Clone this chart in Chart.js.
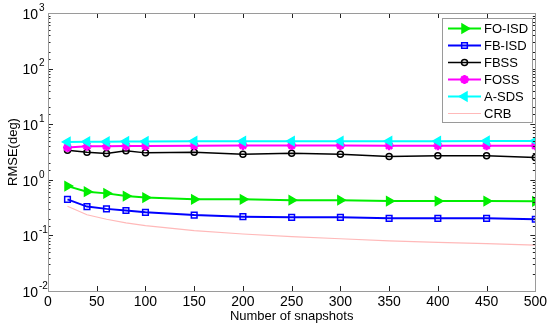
<!DOCTYPE html>
<html lang="en">

<head>
    <meta charset="utf-8">
    <title>RMSE vs snapshots</title>
    <script src="https://cdn.jsdelivr.net/npm/chart.js"></script>
    <style>
        body {
            margin: 0;
            background: #fff;
        }
        
        #rmseChart {
            display: block;
        }
    </style>
</head>

<body>
    <canvas id="rmseChart" width="550" height="328"></canvas>

    <script>
        // data
        const snapshots = [20, 40, 60, 80, 100, 150, 200, 250, 300, 350, 400, 450, 500];
        const foIsd = [0.77, 0.61, 0.57, 0.51, 0.48, 0.445, 0.445, 0.43, 0.43, 0.415, 0.415, 0.415, 0.41];
        const fbIsd = [0.445, 0.33, 0.30, 0.28, 0.26, 0.232, 0.217, 0.211, 0.211, 0.203, 0.203, 0.203, 0.195];
        const fbss = [3.41, 3.14, 2.98, 3.32, 3.05, 3.14, 2.89, 3.01, 2.89, 2.63, 2.70, 2.70, 2.52];
        const foss = [3.82, 4.03, 4.03, 4.05, 4.05, 4.1, 4.15, 4.15, 4.15, 4.1, 4.1, 4.1, 4.1];
        const asds = [4.8, 4.85, 4.85, 4.9, 4.9, 4.95, 4.95, 4.95, 4.95, 4.95, 4.95, 5.0, 5.0];
        const crb = [0.335, 0.235, 0.195, 0.168, 0.15, 0.122, 0.106, 0.095, 0.087, 0.08, 0.075, 0.071, 0.067];
        const seriesNames = ['FO-ISD', 'FB-ISD', 'FBSS', 'FOSS', 'A-SDS', 'CRB'];
        const xTicks = [0, 50, 100, 150, 200, 250, 300, 350, 400, 450, 500];
        const yDecades = [-2, -1, 0, 1, 2, 3];

        const FONT = '"Liberation Sans", Arial, sans-serif';

        function pts(vals) {
            return snapshots.map((x, i) => ({ x: x, y: vals[i] }));
        }

        function series(name, vals, color, style) {
            return Object.assign({
                label: name,
                data: pts(vals),
                borderColor: color,
                backgroundColor: color,
                pointBorderColor: color,
                pointBackgroundColor: color,
                borderWidth: 2,
                pointRadius: 4,
                pointBorderWidth: 1.5,
                tension: 0
            }, style);
        }

        const datasets = [
            series('CRB', crb, 'rgb(255,185,185)', { borderWidth: 1.2, pointRadius: 0, order: 6 }),
            series('FB-ISD', fbIsd, '#0000ff', { pointStyle: 'rect', pointBackgroundColor: 'rgba(0,0,0,0)', pointRadius: 4, order: 5 }),
            series('FO-ISD', foIsd, '#00ee00', { pointStyle: 'triangle', pointRotation: 90, pointRadius: 5, order: 4 }),
            series('FBSS', fbss, '#000000', { borderWidth: 1.5, pointStyle: 'circle', pointBackgroundColor: 'rgba(0,0,0,0)', pointRadius: 3, order: 3 }),
            series('FOSS', foss, '#ff00ff', { pointStyle: 'star', pointRadius: 4.5, pointBorderWidth: 2.5, order: 2 }),
            series('A-SDS', asds, '#00ffff', { pointStyle: 'triangle', pointRotation: -90, pointRadius: 5, order: 1 })
        ];

        // box, inward ticks, 10^k labels and legend like the matlab figure
        const matlabAxes = {
            id: 'matlabAxes',
            afterDatasetsDraw(chart) {
                const ctx = chart.ctx;
                const a = chart.chartArea;
                const xs = chart.scales.x;
                const ys = chart.scales.y;
                ctx.save();

                // ticks
                ctx.strokeStyle = '#222';
                ctx.lineWidth = 1;
                ctx.beginPath();
                xTicks.forEach(v => {
                    const px = Math.round(xs.getPixelForValue(v)) + 0.5;
                    ctx.moveTo(px, a.bottom);
                    ctx.lineTo(px, a.bottom - 5);
                    ctx.moveTo(px, a.top);
                    ctx.lineTo(px, a.top + 5);
                });
                ys.ticks.forEach(t => {
                    const lg = Math.log10(t.value);
                    const major = Math.abs(lg - Math.round(lg)) < 1e-6;
                    const len = major ? 5 : 2.5;
                    const py = Math.round(ys.getPixelForValue(t.value)) + 0.5;
                    ctx.moveTo(a.left, py);
                    ctx.lineTo(a.left + len, py);
                    ctx.moveTo(a.right, py);
                    ctx.lineTo(a.right - len, py);
                });
                ctx.stroke();

                // box
                ctx.strokeStyle = '#9a9a9a';
                ctx.lineWidth = 1;
                ctx.strokeRect(Math.round(a.left) + 0.5, Math.round(a.top) + 0.5,
                    Math.round(a.right - a.left), Math.round(a.bottom - a.top));

                // y tick labels
                ctx.fillStyle = '#000';
                yDecades.forEach(k => {
                    const py = ys.getPixelForValue(Math.pow(10, k));
                    ctx.font = '14px ' + FONT;
                    ctx.textAlign = 'right';
                    ctx.textBaseline = 'middle';
                    ctx.fillText('10', a.left - 10, py + 2);
                    ctx.font = '10px ' + FONT;
                    ctx.textAlign = 'left';
                    ctx.fillText(String(k), a.left - 9, py - 5);
                });

                // legend
                const lx = 442, ly = 18, lw = 90, lh = 104;
                ctx.fillStyle = '#fff';
                ctx.fillRect(lx, ly, lw, lh);
                ctx.strokeStyle = '#9a9a9a';
                ctx.strokeRect(lx + 0.5, ly + 0.5, lw, lh);
                seriesNames.forEach((name, i) => {
                    const ds = chart.data.datasets.find(d => d.label === name);
                    const y = 28.5 + i * 17;
                    ctx.strokeStyle = ds.borderColor;
                    ctx.lineWidth = ds.borderWidth;
                    ctx.beginPath();
                    ctx.moveTo(448, y);
                    ctx.lineTo(481, y);
                    ctx.stroke();
                    if (ds.pointRadius > 0) {
                        ctx.fillStyle = ds.pointBackgroundColor;
                        ctx.strokeStyle = ds.pointBorderColor;
                        ctx.lineWidth = ds.pointBorderWidth;
                        Chart.helpers.drawPoint(ctx, {
                            pointStyle: ds.pointStyle,
                            rotation: ds.pointRotation || 0,
                            radius: ds.pointRadius,
                            borderWidth: ds.pointBorderWidth
                        }, 464.5, y);
                    }
                    ctx.fillStyle = '#000';
                    ctx.font = '13px ' + FONT;
                    ctx.textAlign = 'left';
                    ctx.textBaseline = 'middle';
                    ctx.fillText(name, 484, y + 0.5);
                });
                ctx.restore();
            }
        };

        new Chart(document.getElementById('rmseChart'), {
            type: 'line',
            data: { datasets: datasets },
            options: {
                responsive: false,
                animation: false,
                layout: { padding: { top: 13, right: 13, left: 0, bottom: 0 } },
                plugins: {
                    legend: { display: false },
                    tooltip: { enabled: false }
                },
                scales: {
                    x: {
                        type: 'linear',
                        min: 0,
                        max: 500,
                        grid: { display: false, drawTicks: false },
                        border: { display: false },
                        afterFit: s => { s.height = 37; },
                        afterBuildTicks: s => { s.ticks = xTicks.map(v => ({ value: v })); },
                        ticks: { color: '#000', font: { family: FONT, size: 14 }, padding: 3, maxRotation: 0 },
                        title: { display: true, text: 'Number of snapshots', color: '#000', font: { family: FONT, size: 13 }, padding: { top: 0, bottom: 4 } }
                    },
                    y: {
                        type: 'logarithmic',
                        min: 0.01,
                        max: 1000,
                        grid: { display: false, drawTicks: false },
                        border: { display: false },
                        afterFit: s => { s.width = 48; },
                        ticks: { display: false, autoSkip: false },
                        title: { display: true, text: 'RMSE(deg)', color: '#000', font: { family: FONT, size: 13 }, padding: { top: 6, bottom: 0 } }
                    }
                }
            },
            plugins: [matlabAxes]
        });
    </script>
</body>

</html>
